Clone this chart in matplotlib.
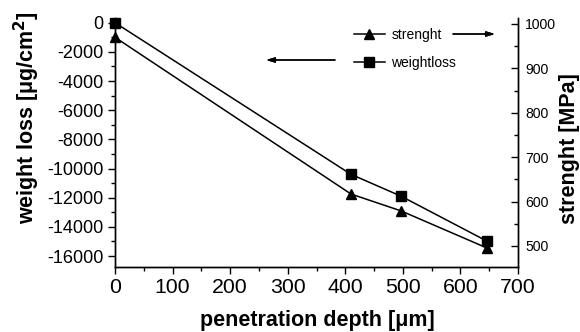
import matplotlib
matplotlib.use("Agg")
import matplotlib.pyplot as plt
from matplotlib.ticker import MultipleLocator

# measured values
depth = [0, 410, 497, 647]
weightloss = [0, -10400, -11900, -15000]
strength = [970, 617, 579, 495]

plt.rcParams["font.family"] = ["Liberation Sans", "DejaVu Sans"]
plt.rcParams["axes.unicode_minus"] = False

fig = plt.figure(figsize=(5.8, 3.32), dpi=100)
ax = fig.add_axes([115 / 580, 65 / 332, 403 / 580, 249 / 332])
ax2 = ax.twinx()

# weight loss on the left axis
wl_line, = ax.plot(depth, weightloss, color="black", lw=1.1,
                   marker="s", ms=7.5, mfc="black", mec="black",
                   label="weightloss", clip_on=False, zorder=5)
# strength on the right axis
st_line, = ax2.plot(depth, strength, color="black", lw=1.1,
                    marker="^", ms=7.5, mfc="black", mec="black",
                    label="strenght", clip_on=False, zorder=5)

ax.set_xlim(0, 700)
ax.set_ylim(-16754, 322)
ax2.set_ylim(452.7, 1013.5)

ax.xaxis.set_major_locator(MultipleLocator(100))
ax.xaxis.set_minor_locator(MultipleLocator(50))
ax.yaxis.set_major_locator(MultipleLocator(2000))
ax.yaxis.set_minor_locator(MultipleLocator(1000))
ax2.yaxis.set_major_locator(MultipleLocator(100))
ax2.yaxis.set_minor_locator(MultipleLocator(50))

ax.set_yticks(range(-16000, 1, 2000))
ax2.set_yticks(range(500, 1001, 100))

for a in (ax, ax2):
    a.spines["top"].set_visible(False)
    for s in a.spines.values():
        s.set_linewidth(1.0)

ax.tick_params(axis="x", which="major", direction="out", length=5, width=1,
               labelsize=15.3, pad=3)
ax.tick_params(axis="x", which="minor", direction="out", length=3, width=1)
ax.tick_params(axis="y", which="major", direction="out", length=5, width=1,
               labelsize=13, pad=3.5)
ax.tick_params(axis="y", which="minor", direction="out", length=3, width=1)
ax2.tick_params(axis="y", which="major", direction="in", length=5, width=1,
                labelsize=10.1, pad=5)
ax2.tick_params(axis="y", which="minor", direction="in", length=3, width=1)

ax.set_xlabel("penetration depth [μm]", fontsize=15.5, fontweight="bold")
ax.set_ylabel("weight loss [μg/cm$^\\mathbf{2}$]", fontsize=15.5, fontweight="bold")
ax2.set_ylabel("strenght [MPa]", fontsize=15.5, fontweight="bold")
ax.xaxis.set_label_coords(0.502, -0.213)
ax.yaxis.set_label_coords(-0.218, 0.60)
ax2.yaxis.set_label_coords(1.129, 0.474)
ax.xaxis.label.set_va("center")
ax.yaxis.label.set_va("center")
ax2.yaxis.label.set_va("center")

fig.legend(handles=[st_line, wl_line], loc="upper left",
           bbox_to_anchor=(354 / 580, 1 - 28 / 332), frameon=False,
           fontsize=10, handlelength=2.2, handletextpad=0.5,
           labelspacing=1.0, borderpad=0, borderaxespad=0)

# arrows pointing to the matching axis
arrow = dict(arrowstyle="-|>,head_length=0.5,head_width=0.15",
             color="black", lw=1.0, shrinkA=0, shrinkB=0)
fig.add_artist(plt.annotate("", xy=(495, 298), xytext=(453, 298),
                            xycoords="figure pixels", textcoords="figure pixels",
                            arrowprops=arrow))
fig.add_artist(plt.annotate("", xy=(266, 272), xytext=(335, 272),
                            xycoords="figure pixels", textcoords="figure pixels",
                            arrowprops=arrow))

fig.savefig("out.png", dpi=100)
